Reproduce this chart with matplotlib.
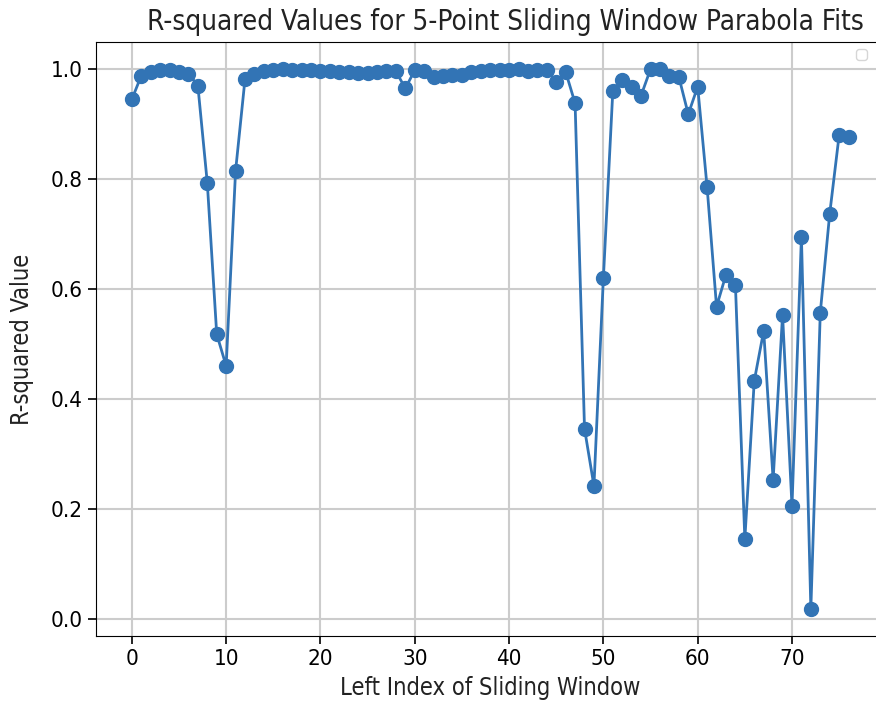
import numpy as np
from matplotlib import pyplot as plt

# R-squared of each 5-point window, indexed by left edge
r_squared = [
    0.945, 0.988, 0.995, 0.998, 0.999, 0.995, 0.992, 0.970, 0.793, 0.518,
    0.460, 0.815, 0.982, 0.992, 0.997, 0.999, 1.000, 0.999, 0.998, 0.998,
    0.997, 0.996, 0.995, 0.994, 0.993, 0.993, 0.994, 0.997, 0.996, 0.965,
    0.998, 0.996, 0.985, 0.988, 0.989, 0.990, 0.994, 0.996, 0.998, 0.999,
    0.999, 1.000, 0.996, 0.998, 0.999, 0.977, 0.995, 0.938, 0.346, 0.242,
    0.620, 0.960, 0.980, 0.968, 0.952, 1.000, 1.000, 0.988, 0.986, 0.918,
    0.968, 0.785, 0.568, 0.626, 0.608, 0.145, 0.433, 0.524, 0.253, 0.553,
    0.205, 0.695, 0.018, 0.557, 0.737, 0.880, 0.877,
]
left_index = np.arange(len(r_squared))

plt.rcParams['font.family'] = 'DejaVu Sans'
plt.rcParams['font.stretch'] = 'condensed'

fig = plt.figure(figsize=(8.76, 7.02), dpi=100)
ax = fig.add_axes([0.1096, 0.094, 0.9, 0.846])

ax.plot(left_index, r_squared, color="#3274b5", marker="o", markersize=10, linewidth=2)
ax.set_title("R-squared Values for 5-Point Sliding Window Parabola Fits",
             fontsize=20, color="#222222", pad=9, x=0.519)
ax.set_xlabel("Left Index of Sliding Window", fontsize=17, color="#222222", labelpad=5)
ax.set_ylabel("R-squared Value", fontsize=17, color="#222222", labelpad=12)
ax.tick_params(labelsize=16, length=6, width=1.2)
for lab in ax.get_xticklabels() + ax.get_yticklabels():
    lab.set_fontstretch('condensed')
ax.grid(True, color="#cccccc", linewidth=1.5)
ax.set_axisbelow(True)
ax.legend(handles=[], loc="upper right", bbox_to_anchor=(0.987, 1.0))

plt.savefig("out.png", dpi=100)
